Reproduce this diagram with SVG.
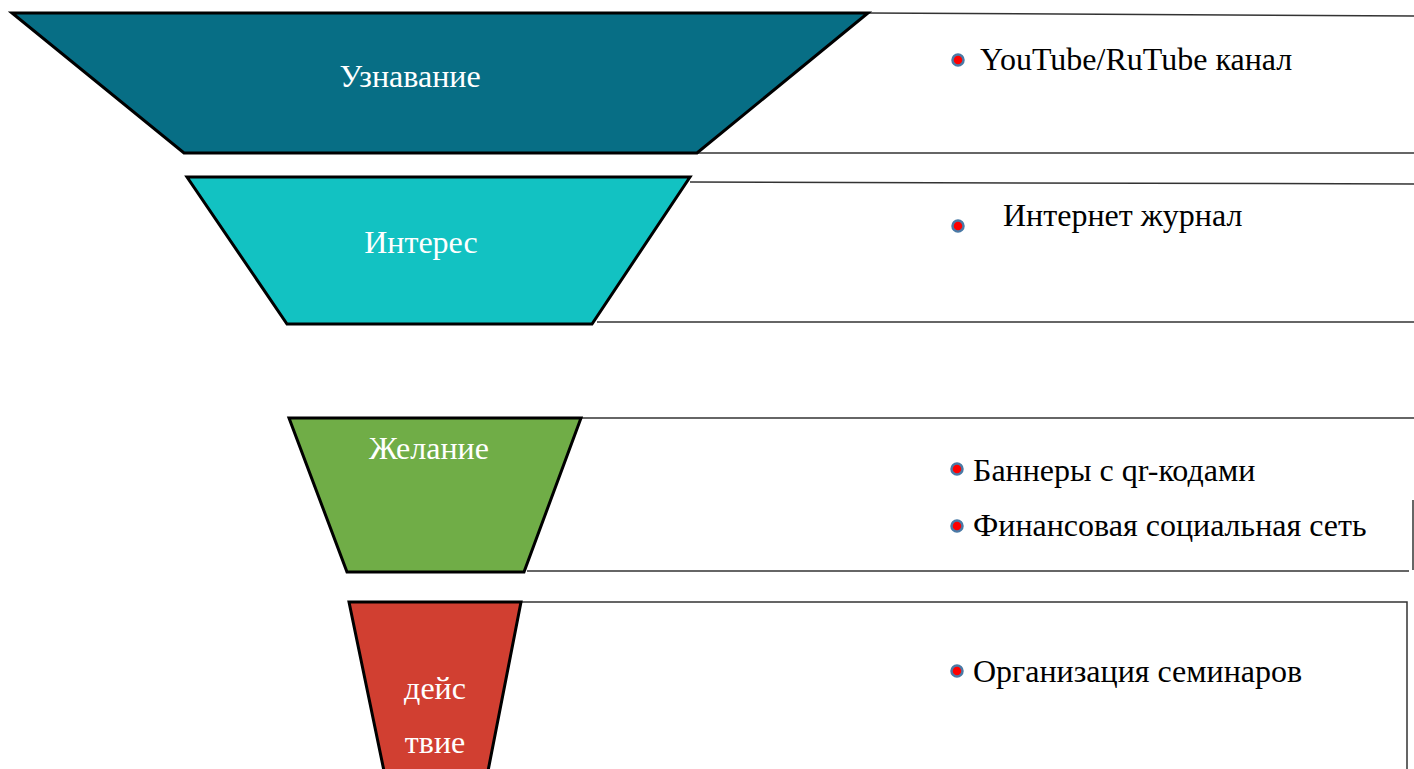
<svg xmlns="http://www.w3.org/2000/svg" width="1414" height="769" viewBox="0 0 1414 769">
<style>
.stage{stroke:#000;stroke-width:3;stroke-linejoin:miter}
.lbl{font-family:"Liberation Serif","Times New Roman",serif;font-size:32px;fill:#fff;text-anchor:middle}
.item{font-family:"Liberation Serif","Times New Roman",serif;font-size:32px;fill:#000}
.ln{stroke:#333;stroke-width:1.5;fill:none}
.bul{fill:#f00;stroke:#4a7aa6;stroke-width:2.5}
</style>
<rect width="1414" height="769" fill="#fff"/>
<g id="connectors">
<path class="ln" d="M868 13 L1414 16"/>
<path class="ln" d="M697 153 L1414 153"/>
<path class="ln" d="M690 182 L1414 184"/>
<path class="ln" d="M597 322 L1414 322"/>
<path class="ln" d="M581 418 L1414 418"/>
<path class="ln" d="M527 571 L1409 571"/>
<path class="ln" d="M1413 500 L1413 570"/>
<path class="ln" d="M521 602 L1407 602 L1407 769"/>
</g>
<g id="stage-awareness">
<polygon class="stage" fill="#076E85" points="12,13 868,13 697,153 184,153"/>
<text class="lbl" x="410" y="87">Узнавание</text>
</g>
<g id="stage-interest">
<polygon class="stage" fill="#12C2C2" points="187,177 690,177 592,324 287,324"/>
<text class="lbl" x="421" y="253">Интерес</text>
</g>
<g id="stage-desire">
<polygon class="stage" fill="#70AD47" points="289,418 581,418 524,572 347,572"/>
<text class="lbl" x="429" y="459">Желание</text>
</g>
<g id="stage-action">
<polygon class="stage" fill="#D13F31" points="349,602 521,602 488,771 384,771"/>
<text class="lbl" x="435" y="699">дейс</text>
<text class="lbl" x="435" y="753">твие</text>
</g>
<g id="list-awareness">
<circle class="bul" cx="958" cy="60" r="5.5"/>
<text class="item" x="980" y="70">YouTube/RuTube канал</text>
</g>
<g id="list-interest">
<circle class="bul" cx="958" cy="226" r="5.5"/>
<text class="item" x="1003" y="226">Интернет журнал</text>
</g>
<g id="list-desire">
<circle class="bul" cx="957" cy="469" r="5.5"/>
<text class="item" x="973" y="481">Баннеры с qr-кодами</text>
<circle class="bul" cx="957" cy="526" r="5.5"/>
<text class="item" x="973" y="536">Финансовая социальная сеть</text>
</g>
<g id="list-action">
<circle class="bul" cx="957" cy="671" r="5.5"/>
<text class="item" x="973" y="682">Организация семинаров</text>
</g>
</svg>
